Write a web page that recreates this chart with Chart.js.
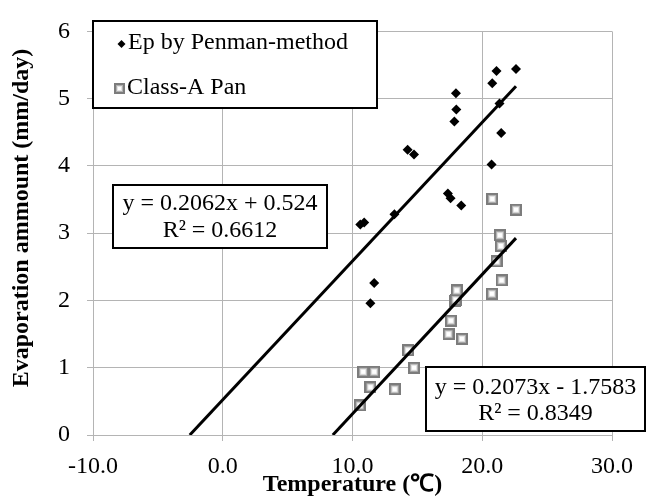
<!DOCTYPE html>
<html><head><meta charset="utf-8">
<script src="https://cdn.jsdelivr.net/npm/chart.js@4/dist/chart.umd.min.js"></script>
<style>html,body{margin:0;padding:0;background:#fff}#wrap{width:655px;height:497px}</style>
</head><body><div id="wrap"><canvas id="c" width="655" height="497"></canvas></div>
<script>
// ---- data ----
const epTemp   = [10.6, 10.9, 11.38, 11.67, 13.23, 14.25, 14.74, 17.35, 17.56, 17.85, 17.97, 18.0, 18.38, 20.72, 20.77, 21.1, 21.33, 21.46, 22.6];
const epValues = [3.13, 3.16, 1.96, 2.26, 3.28, 4.24, 4.17, 3.59, 3.52, 4.66, 5.08, 4.84, 3.41, 4.02, 5.23, 5.41, 4.93, 4.49, 5.44];
const panTemp   = [10.56, 10.82, 11.38, 11.67, 13.25, 14.28, 14.74, 17.4, 17.58, 17.9, 17.95, 18.03, 18.43, 20.74, 20.77, 21.1, 21.36, 21.43, 21.49, 22.6];
const panValues = [0.44, 0.94, 0.71, 0.94, 0.68, 1.26, 1.00, 1.50, 1.70, 1.99, 2.01, 2.15, 1.43, 2.10, 3.51, 2.58, 2.97, 2.81, 2.30, 3.35];
// trendlines (slope, intercept) as printed in the chart; drawn from y=0 to the last data temperature
const epFit  = [0.2062, 0.524];
const panFit = [0.2073, -1.7583];
const fitEndTemp = [22.6, 22.6];
const seriesNames = ['Ep by Penman-method', 'Class-A Pan'];
const eqEp  = ['y = 0.2062x + 0.524', 'R² = 0.6612'];
const eqPan = ['y = 0.2073x - 1.7583', 'R² = 0.8349'];
const xTickValues = [-10, 0, 10, 20, 30];
const xTickLabels = ['-10.0', '0.0', '10.0', '20.0', '30.0'];
const yTickLabels = ['0', '1', '2', '3', '4', '5', '6'];
const xTitle = 'Temperature (℃)';
const yTitle = 'Evaporation ammount (mm/day)';

const FONT = "'Liberation Serif', 'Times New Roman', serif";
const FS = 24;
const GRID = '#b4b4b4';

function makeSquare(size) {
  const cv = document.createElement('canvas');
  cv.width = size; cv.height = size;
  const g = cv.getContext('2d');
  g.fillStyle = '#7c7c7c'; g.fillRect(0, 0, size, size);
  g.fillStyle = '#b0b0b0'; g.fillRect(2, 2, size - 4, size - 4);
  g.fillStyle = '#e4e4e4'; g.fillRect(3, 3, size - 6, size - 6);
  g.fillStyle = '#ffffff'; g.fillRect(4, 4, size - 8, size - 8);
  return cv;
}
const squareMark = makeSquare(12);
const squareLegend = makeSquare(11);

const pts = (xs, ys) => xs.map((x, i) => ({x: x, y: ys[i]}));
const fitLine = (fit, end) => [{x: -fit[1] / fit[0], y: 0}, {x: end, y: fit[0] * end + fit[1]}];

function drawBox(ctx, x1, y1, x2, y2) {
  ctx.save();
  ctx.fillStyle = '#fff';
  ctx.fillRect(x1, y1, x2 - x1, y2 - y1);
  ctx.strokeStyle = '#000';
  ctx.lineWidth = 2;
  ctx.strokeRect(x1, y1, x2 - x1, y2 - y1);
  ctx.restore();
}

const overlay = {
  id: 'overlay',
  afterDraw(chart) {
    const ctx = chart.ctx;
    ctx.save();
    // y axis title
    ctx.save();
    ctx.translate(22, 218);
    ctx.rotate(-Math.PI / 2);
    ctx.font = 'bold ' + FS + 'px ' + FONT;
    ctx.fillStyle = '#000';
    ctx.textAlign = 'center';
    ctx.textBaseline = 'middle';
    ctx.fillText(yTitle, 0, 0);
    ctx.restore();

    ctx.font = FS + 'px ' + FONT;
    ctx.fillStyle = '#000';
    ctx.textBaseline = 'middle';
    // legend
    drawBox(ctx, 93, 21, 377, 108);
    ctx.beginPath();
    ctx.moveTo(117.5, 44); ctx.lineTo(121.5, 40); ctx.lineTo(125.5, 44); ctx.lineTo(121.5, 48); ctx.closePath(); ctx.fill();
    ctx.textAlign = 'left';
    ctx.fillText(seriesNames[0], 128, 43);
    ctx.drawImage(squareLegend, 114, 83);
    ctx.fillText(seriesNames[1], 127, 88);
    // equation boxes
    ctx.textAlign = 'center';
    drawBox(ctx, 113, 185, 327, 248);
    ctx.fillText(eqEp[0], 220, 204);
    ctx.fillText(eqEp[1], 220, 231);
    drawBox(ctx, 426, 367, 645, 431);
    ctx.fillText(eqPan[0], 535.5, 388);
    ctx.fillText(eqPan[1], 535.5, 414);
    ctx.restore();
  }
};

new Chart(document.getElementById('c'), {
  type: 'scatter',
  data: {
    datasets: [
      {label: 'fitEp', type: 'line', data: fitLine(epFit, fitEndTemp[0]), borderColor: '#000', borderWidth: 3, pointRadius: 0, showLine: true, fill: false},
      {label: 'fitPan', type: 'line', data: fitLine(panFit, fitEndTemp[1]), borderColor: '#000', borderWidth: 3, pointRadius: 0, showLine: true, fill: false},
      {label: seriesNames[0], data: pts(epTemp, epValues), pointStyle: 'rectRot', pointRadius: 5, backgroundColor: '#000', borderColor: '#000', borderWidth: 0},
      {label: seriesNames[1], data: pts(panTemp, panValues), pointStyle: squareMark, pointRadius: 6, backgroundColor: '#888', borderColor: '#888'}
    ]
  },
  options: {
    responsive: false,
    animation: false,
    devicePixelRatio: 1,
    layout: {padding: {left: 0, right: 43, top: 15, bottom: 0}},
    plugins: {legend: {display: false}, tooltip: {enabled: false}},
    scales: {
      x: {
        type: 'linear', min: -10, max: 30,
        afterBuildTicks: s => { s.ticks = xTickValues.map(v => ({value: v})); },
        afterFit: s => { s.height = 62; },
        ticks: {
          padding: 11, color: '#000', font: {family: FONT, size: FS},
          callback: v => xTickLabels[xTickValues.indexOf(v)]
        },
        grid: {color: GRID, lineWidth: 1, tickLength: 6, drawTicks: true},
        border: {color: GRID, width: 1},
        title: {display: true, text: xTitle, color: '#000', font: {family: FONT, size: FS, weight: 'bold', lineHeight: 1}, padding: {top: 0, bottom: 0}}
      },
      y: {
        min: 0, max: 6,
        afterFit: s => { s.width = 93; },
        ticks: {
          stepSize: 1, padding: 17, color: '#000', font: {family: FONT, size: FS},
          callback: v => yTickLabels[v]
        },
        grid: {color: GRID, lineWidth: 1, tickLength: 6, drawTicks: true},
        border: {color: GRID, width: 1},
        title: {display: false}
      }
    }
  },
  plugins: [overlay]
});
</script>
</body></html>
